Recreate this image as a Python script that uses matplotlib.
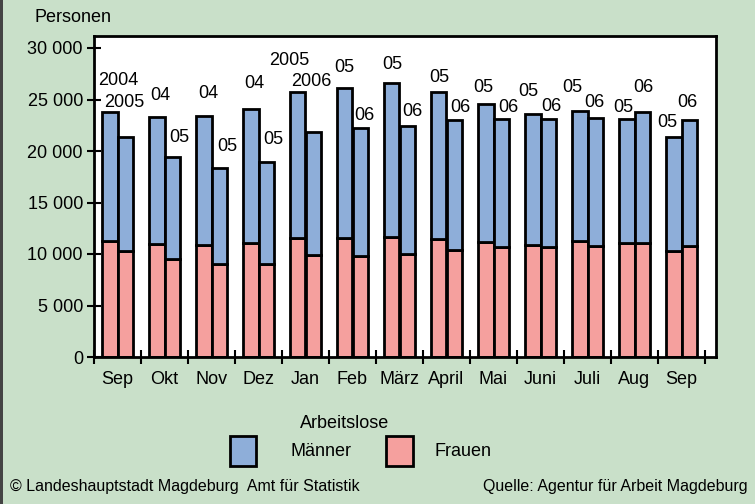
import matplotlib
matplotlib.use("Agg")
import matplotlib.pyplot as plt
from matplotlib.patches import Rectangle
from matplotlib.ticker import FuncFormatter, MultipleLocator, FixedLocator
import numpy as np

plt.rcParams['font.family'] = ['Liberation Sans', 'DejaVu Sans']

months = ["Sep", "Okt", "Nov", "Dez", "Jan", "Feb", "März", "April", "Mai", "Juni", "Juli", "Aug", "Sep"]
# earlier-year bar (left) and later-year bar (right): totals and women
total_prev = [23800, 23270, 23370, 24110, 25700, 26120, 26570, 25760, 24530, 23560, 23920, 23070, 21330]
women_prev = [11260, 10970, 10900, 11100, 11550, 11550, 11680, 11490, 11170, 10840, 11290, 11100, 10290]
total_curr = [21330, 19450, 18380, 18960, 21840, 22230, 22400, 23000, 23140, 23070, 23240, 23750, 23000]
women_curr = [10290, 9480, 9000, 9000, 9870, 9840, 9970, 10390, 10650, 10650, 10780, 11100, 10780]
labels_prev = ["2004", "04", "04", "04", "2005", "05", "05", "05", "05", "05", "05", "05", "05"]
labels_curr = ["2005", "05", "05", "05", "2006", "06", "06", "06", "06", "06", "06", "06", "06"]

men_prev = [t - w for t, w in zip(total_prev, women_prev)]
men_curr = [t - w for t, w in zip(total_curr, women_curr)]

# label positions (layout, in pixels of the figure)
lab_prev_pos = [(118, 80), (160, 95), (208, 94), (254, 84), (289, 60), (344, 67), (392, 64),
                (439, 78), (483, 88), (528, 92), (572, 88), (623, 107), (667, 122)]
lab_curr_pos = [(124, 102), (179, 138), (227, 146), (273, 140), (311, 81), (364, 115), (412, 112),
                (460, 107), (508, 107), (551, 106), (594, 102), (643, 87), (687, 102)]

BG = "#c9e0c9"
BLUE = "#8eaed9"
PINK = "#f5a09e"

W, H = 755, 504
fig = plt.figure(figsize=(W / 100, H / 100), dpi=100, facecolor=BG)
ax = fig.add_axes([94 / W, 1 - 357 / H, (716 - 94) / W, (357 - 36) / H])
ax.set_facecolor("white")

ymax = (357 - 36) / 10.3 * 1000
xmax = (716 - 94) / 47
ax.set_ylim(0, ymax)
ax.set_xlim(0, xmax)

x = np.arange(len(months)) + 0.5
bw = 1 / 3
kw = dict(width=bw, edgecolor="black", linewidth=2)
ax.bar(x - bw / 2, women_prev, color=PINK, **kw)
ax.bar(x - bw / 2, men_prev, bottom=women_prev, color=BLUE, **kw)
ax.bar(x + bw / 2, women_curr, color=PINK, **kw)
ax.bar(x + bw / 2, men_curr, bottom=women_curr, color=BLUE, **kw)

def px2data(px, py):
    return (px - 94) / 47, (357 - py) / 10.3 * 1000

for lab, pos in zip(labels_prev, lab_prev_pos):
    ax.text(*px2data(*pos), lab, ha="center", va="center", fontsize=13)
for lab, pos in zip(labels_curr, lab_curr_pos):
    ax.text(*px2data(*pos), lab, ha="center", va="center", fontsize=13)

for s in ax.spines.values():
    s.set_linewidth(2)

ax.yaxis.set_major_locator(MultipleLocator(5000))
ax.yaxis.set_major_formatter(FuncFormatter(lambda v, p: f"{int(v):,}".replace(",", " ")))
ax.tick_params(axis="y", direction="inout", length=10, width=1.5, labelsize=13, pad=3)
ax.xaxis.set_major_locator(FixedLocator(x))
ax.set_xticklabels(months)
ax.xaxis.set_minor_locator(FixedLocator(np.arange(0, 14)))
ax.tick_params(axis="x", which="major", length=0, labelsize=13, pad=10)
ax.tick_params(axis="x", which="minor", direction="inout", length=10, width=1.5)

fig.text(35 / W, 1 - 17 / H, "Personen", fontsize=13, va="center", ha="left")

# legend (placed by hand to mirror the reference layout)
def fx(px):
    return px / W

def fy(py):
    return 1 - py / H

fig.text(fx(345), fy(424), "Arbeitslose", fontsize=13, ha="center", va="center")
for (x0, x1), col, txt, tx in [((230, 256), BLUE, "Männer", 290), ((386, 413), PINK, "Frauen", 435)]:
    fig.patches.append(Rectangle((fx(x0), fy(466)), fx(x1) - fx(x0), fy(436) - fy(466),
                                 transform=fig.transFigure, facecolor=col,
                                 edgecolor="black", linewidth=2))
    fig.text(fx(tx), fy(451), txt, fontsize=13, ha="left", va="center")

fig.text(10 / W, 1 - 487 / H, "© Landeshauptstadt Magdeburg  Amt für Statistik", fontsize=11.5, va="center", ha="left")
fig.text(748 / W, 1 - 487 / H, "Quelle: Agentur für Arbeit Magdeburg", fontsize=11.5, va="center", ha="right")

fig.patches.append(Rectangle((0, 0), 2.5 / W, 1, transform=fig.transFigure, facecolor="#444444", edgecolor="none"))

fig.savefig("out.png", dpi=100, facecolor=BG)
